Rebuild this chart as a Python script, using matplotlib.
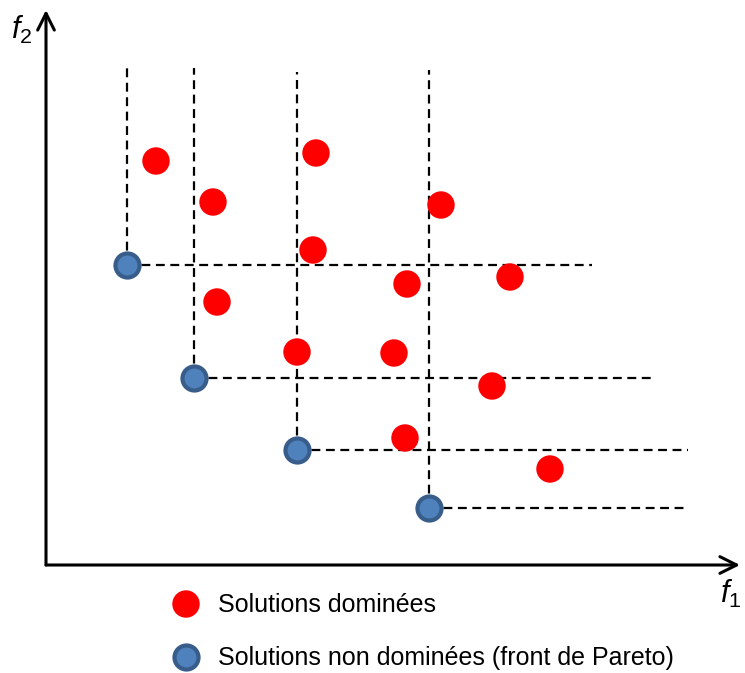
import matplotlib
matplotlib.use("Agg")
import matplotlib.pyplot as plt

plt.rcParams["mathtext.fontset"] = "custom"
plt.rcParams["mathtext.it"] = "Liberation Sans:italic"
plt.rcParams["mathtext.rm"] = "Liberation Sans"

# non-dominated solutions (Pareto front)
front_f1 = [81, 148, 251, 383]
front_f2 = [300, 187, 115, 57]
# extent of dominated regions (dashed guides)
guide_top = [497, 497, 493, 495]
guide_right = [546, 606, 642, 640]

# dominated solutions
dom_f1 = [110, 167, 270, 395, 267, 361, 464, 171, 251, 348, 446, 359, 504]
dom_f2 = [404, 363, 412, 360, 315, 281, 288, 263, 213, 212, 179, 127, 96]

legend_labels = ["Solutions dominées", "Solutions non dominées (front de Pareto)"]

RED = "#ff0000"
BLUE_FACE = "#4f81bd"
BLUE_EDGE = "#385d8a"

W, H = 745, 673
fig = plt.figure(figsize=(W / 100, H / 100), dpi=100)
ax = fig.add_axes([46 / W, (H - 565) / H, (740 - 46) / W, (565 - 10) / H])
ax.set_xlim(0, 694)
ax.set_ylim(0, 555)
ax.axis("off")

# axes with arrows
arrow = dict(arrowstyle="->,head_length=1.2,head_width=0.6", lw=2.2, color="black",
             shrinkA=0, shrinkB=0)
ax.annotate("", xy=(0, 1), xytext=(0, 0), xycoords="axes fraction", arrowprops=arrow)
ax.annotate("", xy=(1, 0), xytext=(0, 0), xycoords="axes fraction", arrowprops=arrow)

# dashed guides
for x, y, top, right in zip(front_f1, front_f2, guide_top, guide_right):
    ax.plot([x, x], [y, top], ls=(0, (4, 2.5)), lw=1.6, color="black", zorder=1)
    ax.plot([x, right], [y, y], ls=(0, (4, 2.5)), lw=1.6, color="black", zorder=1)

ax.scatter(dom_f1, dom_f2, s=390, color=RED, edgecolors="none", zorder=3, clip_on=False)
ax.scatter(front_f1, front_f2, s=300, color=BLUE_FACE, edgecolors=BLUE_EDGE,
           linewidths=3, zorder=3, clip_on=False)

fig.text(22 / W, 1 - 30 / H, "$f_2$", fontsize=22, ha="center", va="center")
fig.text(731 / W, 1 - 594 / H, "$f_1$", fontsize=22, ha="center", va="center")

# legend
font = ["Liberation Sans", "DejaVu Sans"]
ov = fig.add_axes([0, 0, 1, 1], facecolor="none")
ov.set_xlim(0, W)
ov.set_ylim(H, 0)
ov.axis("off")
ov.scatter([186], [604], s=390, color=RED, edgecolors="none")
ov.scatter([186], [657], s=300, color=BLUE_FACE, edgecolors=BLUE_EDGE, linewidths=3)
ov.text(218, 605, legend_labels[0], fontsize=18, family=font, va="center")
ov.text(218, 658, legend_labels[1], fontsize=18, family=font, va="center")

fig.savefig("out.png", dpi=100)
